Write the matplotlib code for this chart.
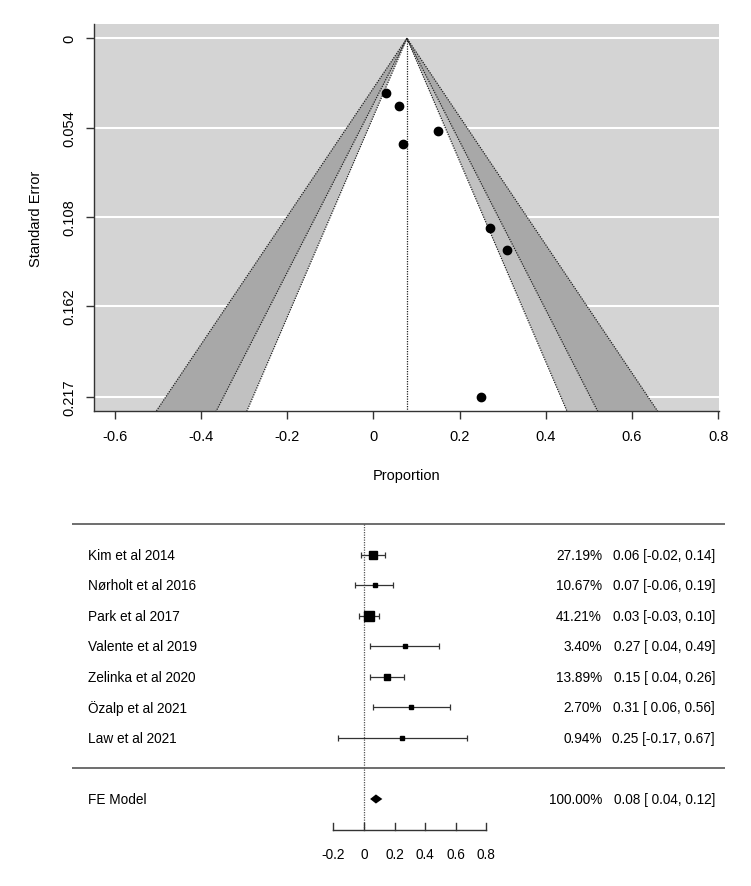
import matplotlib
matplotlib.use('Agg')
import matplotlib.pyplot as plt
import numpy as np

plt.rcParams['font.family'] = ['Liberation Sans', 'DejaVu Sans']

# studies, estimates, CIs, weights and standard errors
studies = ['Kim et al 2014', 'Nørholt et al 2016', 'Park et al 2017', 'Valente et al 2019',
           'Zelinka et al 2020', 'Özalp et al 2021', 'Law et al 2021']
est = [0.06, 0.07, 0.03, 0.27, 0.15, 0.31, 0.25]
lower = [-0.02, -0.06, -0.03, 0.04, 0.04, 0.06, -0.17]
upper = [0.14, 0.19, 0.10, 0.49, 0.26, 0.56, 0.67]
weights = [27.19, 10.67, 41.21, 3.40, 13.89, 2.70, 0.94]
se = [0.041, 0.064, 0.033, 0.115, 0.056, 0.128, 0.217]

fe_est = 0.078
fe_lower = 0.04
fe_upper = 0.12

funnel_xticks = [-0.6, -0.4, -0.2, 0, 0.2, 0.4, 0.6, 0.8]
funnel_yticks = [0, 0.054, 0.108, 0.162, 0.217]
funnel_ylabels = ['0', '0.054', '0.108', '0.162', '0.217']
forest_xticks = [-0.2, 0, 0.2, 0.4, 0.6, 0.8]
contour_z = [2.576, 1.96, 1.645]   # 99%, 95%, 90%
contour_cols = ['#a8a8a8', '#c1c1c1', 'white']

fig = plt.figure(figsize=(7.51, 8.87), dpi=100)

# ---------------- funnel plot ----------------
W, H = 751, 887
ax = fig.add_axes([94 / W, 1 - 412 / H, 625 / W, 387 / H])
ax.set_facecolor('#d4d4d4')
ymax = 0.217 * 1.04
ymin = -0.217 * 0.04
ax.set_xlim(-0.648, 0.802)
ax.set_ylim(ymax, ymin)

for yt in funnel_yticks:
    ax.axhline(yt, color='white', lw=1.5, zorder=1)

dot = (0, (1, 1.0))
sebot = ymax + 0.01
for z, col in zip(contour_z, contour_cols):
    xs = [fe_est, fe_est - z * sebot, fe_est + z * sebot]
    ys = [0, sebot, sebot]
    ax.fill(xs, ys, color=col, zorder=2, lw=0)
    ax.plot([fe_est - z * sebot, fe_est, fe_est + z * sebot], [sebot, 0, sebot],
            color='#222222', ls=dot, lw=0.9, zorder=3)
ax.plot([fe_est, fe_est], [0, sebot], color='#222222', ls=dot, lw=0.9, zorder=3)

ax.scatter(est, se, s=36, color='black', zorder=4)

ax.spines['top'].set_visible(False)
ax.spines['right'].set_visible(False)
for s in ['left', 'bottom']:
    ax.spines[s].set_color('#333333')
    ax.spines[s].set_linewidth(1.0)
ax.set_xticks(funnel_xticks)
ax.set_xticklabels([f'{v:g}' for v in funnel_xticks])
ax.set_yticks(funnel_yticks)
ax.set_yticklabels(funnel_ylabels, rotation=90, va='center')
ax.tick_params(direction='out', length=6, width=1.0, color='#333333', labelsize=10.5, pad=7)
ax.set_xlabel('Proportion', fontsize=10.5, labelpad=18)
ax.set_ylabel('Standard Error', fontsize=10.5, labelpad=14)

# ---------------- forest plot ----------------
fx = fig.add_axes([72 / W, 1 - 870 / H, 653 / W, 355 / H])
fx.set_xlim(-1.908, 2.359)
fx.set_ylim(-3.295, 8.344)
fx.axis('off')

k = len(studies)
rows = np.arange(k, 0, -1)
fx.axhline(k + 1, color='#555555', lw=1.2)
fx.axhline(0, color='#555555', lw=1.2)
fx.plot([0, 0], [k + 1, -2], color='#555555', ls=dot, lw=0.9)

w = np.array(weights)
psize = (w - w.min()) / (w.max() - w.min()) + 0.5
fx.errorbar(est, rows, xerr=[np.array(est) - np.array(lower), np.array(upper) - np.array(est)],
            fmt='none', ecolor='#333333', elinewidth=0.9, capsize=2.5, capthick=0.9)
for x, y, p in zip(est, rows, psize):
    fx.plot(x, y, marker='s', ms=4.6 * p, color='black', mec='black', ls='none', zorder=3)

fs = 9.8
xl, xw, xe = -1.804, 1.556, 2.294
for name, y, wt, e, lo, hi in zip(studies, rows, weights, est, lower, upper):
    fx.text(xl, y, name, ha='left', va='center', fontsize=fs)
    fx.text(xw, y, f'{wt:.2f}%', ha='right', va='center', fontsize=fs)
    fx.text(xe, y, f'{e:.2f} [{lo:5.2f}, {hi:.2f}]', ha='right', va='center', fontsize=fs)

h = 0.15
fx.fill([fe_lower, fe_est, fe_upper, fe_est], [-1, -1 + h, -1, -1 - h], color='black', lw=0)
fx.text(xl, -1, 'FE Model', ha='left', va='center', fontsize=fs)
fx.text(xw, -1, '100.00%', ha='right', va='center', fontsize=fs)
fx.text(xe, -1, f'{fe_est:.2f} [ {fe_lower:.2f}, {fe_upper:.2f}]', ha='right', va='center', fontsize=fs)

fx.plot([forest_xticks[0], forest_xticks[-1]], [-2, -2], color='#333333', lw=1.0)
for t in forest_xticks:
    fx.plot([t, t], [-2, -1.8], color='#333333', lw=1.0)
    fx.text(t, -2.8, f'{t:g}', ha='center', va='center', fontsize=fs)

fig.savefig('out.png', dpi=100)
